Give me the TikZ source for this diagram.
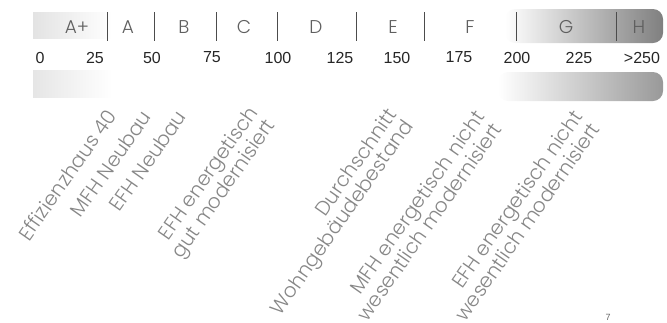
\documentclass[tikz,border=0pt]{standalone}
\usepackage{fontspec}
\setmainfont{Liberation Sans}
\newfontfamily\klassefont{Poppins Light}
\usepackage{tikz}
\usetikzlibrary{positioning}
\definecolor{klassegray}{RGB}{95,95,95}
\definecolor{gebgray}{RGB}{135,135,135}
\tikzset{
  klasse/.style={font=\klassefont\fontsize{18.5}{18.5}\selectfont, text=klassegray, inner sep=0pt},
  kennwert/.style={font=\fontsize{16}{16}\selectfont, text=black!85, inner sep=0pt},
  trenner/.style={draw=black!70, line width=0.9pt},
  gebaeude/.style={font=\klassefont\fontsize{20}{20}\selectfont, text=gebgray, align=right,
                   rotate=55, anchor=north east, inner sep=0pt},
}

\begin{document}
\begin{tikzpicture}[x=1pt, y=-1pt]
\useasboundingbox (0,0) rectangle (667,322);
\shade[left color=black!11, right color=white] (33,12) rectangle (112,38);
\shade[left color=black!10, right color=white] (33,70) rectangle (112,97);
\shade[rounded corners=10pt, left color=white, middle color=black!30, right color=black!50] (505,9) rectangle (663,43);
\shade[rounded corners=10pt, left color=white, middle color=black!25, right color=black!40] (498,72) rectangle (663,101);

\node[klasse] (kl-Aplus) at (77,27.5)  {A+};
\node[klasse] (kl-A)     at (128,27.5) {A};
\node[klasse] (kl-B)     at (184,27.5) {B};
\node[klasse] (kl-C)     at (244,27.5) {C};
\node[klasse] (kl-D)     at (316,27.5) {D};
\node[klasse] (kl-E)     at (393,27.5) {E};
\node[klasse] (kl-F)     at (470,27.5) {F};
\node[klasse] (kl-G)     at (566,27.5) {G};
\node[klasse] (kl-H)     at (639,27.5) {H};

\draw[trenner] (107,12) -- (107,41);
\draw[trenner] (154,12) -- (154,41);
\draw[trenner] (216,12) -- (216,41);
\draw[trenner] (277,12) -- (277,41);
\draw[trenner] (356,12) -- (356,41);
\draw[trenner] (424,12) -- (424,41);
\draw[trenner] (516,12) -- (516,41);
\draw[trenner] (616,12) -- (616,41);

\node[kennwert] (kw-0)   at (40,57.5)  {0};
\node[kennwert] (kw-25)  at (95,57.5)  {25};
\node[kennwert] (kw-50)  at (152,57.5) {50};
\node[kennwert] (kw-75)  at (212,57.5) {75};
\node[kennwert] (kw-100) at (278,57.5) {100};
\node[kennwert] (kw-125) at (340,57.5) {125};
\node[kennwert] (kw-150) at (397,57.5) {150};
\node[kennwert] (kw-175) at (459,57.5) {175};
\node[kennwert] (kw-200) at (517,57.5) {200};
\node[kennwert] (kw-225) at (579,57.5) {225};
\node[kennwert] (kw-250) at (642,57.5) {>250};

\node[gebaeude] (geb-eh40)   at (105,107) {Effizienzhaus 40};
\node[gebaeude] (geb-mfhneu) at (140,108) {MFH Neubau};
\node[gebaeude] (geb-efhneu) at (175,108) {EFH Neubau};
\node[gebaeude] (geb-efhgut) at (246,104) {EFH energetisch\\gut modernisiert};
\node[gebaeude] (geb-schnitt) at (385,106) {Durchschnitt\\Wohngebäudebestand};
\node[gebaeude] (geb-mfhalt) at (473,108) {MFH energetisch nicht\\wesentlich modernisiert};
\node[gebaeude] (geb-efhalt) at (571,108) {EFH energetisch nicht\\wesentlich modernisiert};

\node[font=\fontsize{9}{9}\selectfont, text=black!60] (seite) at (608,317) {7};
\end{tikzpicture}
\end{document}
